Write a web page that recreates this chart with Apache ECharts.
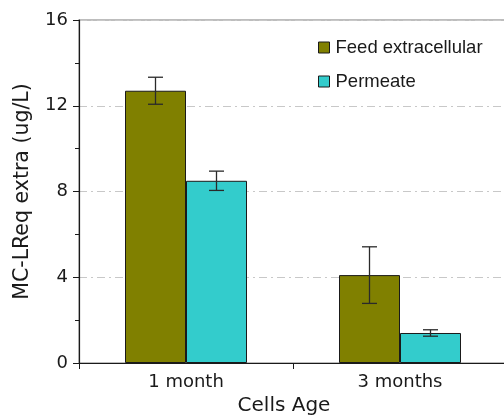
<!DOCTYPE html>
<html>
<head>
<meta charset="utf-8">
<script src="https://cdn.jsdelivr.net/npm/echarts@6/dist/echarts.min.js"></script>
<style>
  html, body { margin: 0; padding: 0; background: #fff; }
  #chart { width: 504px; height: 416px; }
</style>
</head>
<body>
<div id="chart"></div>
<script>
// Microcystin (MC-LReq) concentrations by cell age
const categories = ['1 month', '3 months'];
const seriesNames = ['Feed extracellular', 'Permeate'];
const feedValues = [12.7, 4.1];
const feedErrors = [0.63, 1.32];
const permeateValues = [8.5, 1.4];
const permeateErrors = [0.45, 0.15];
const yTicks = [0, 4, 8, 12, 16];

const BAR_WIDTH = 61;
const CAP_HALF = 7.5;
const AXIS_FONT = 'DejaVu Sans';

function errorSeries(name, values, errors, side) {
  const data = values.map((v, i) => [i, v - errors[i], v + errors[i]]);
  return {
    type: 'custom',
    name: name + ' error',
    z: 10,
    silent: true,
    encode: { x: 0, y: [1, 2] },
    data: data,
    renderItem: function (params, api) {
      const lowPt = api.coord([api.value(0), api.value(1)]);
      const highPt = api.coord([api.value(0), api.value(2)]);
      const x = lowPt[0] + side * BAR_WIDTH / 2;
      const style = { stroke: '#2a2a2a', lineWidth: 1.3 };
      return {
        type: 'group',
        children: [
          { type: 'line', shape: { x1: x, y1: highPt[1], x2: x, y2: lowPt[1] }, style: style },
          { type: 'line', shape: { x1: x - CAP_HALF, y1: highPt[1], x2: x + CAP_HALF, y2: highPt[1] }, style: style },
          { type: 'line', shape: { x1: x - CAP_HALF, y1: lowPt[1], x2: x + CAP_HALF, y2: lowPt[1] }, style: style }
        ]
      };
    }
  };
}

const chart = echarts.init(document.getElementById('chart'), null, { renderer: 'canvas' });
chart.setOption({
  animation: false,
  backgroundColor: '#fff',
  grid: {
    left: 79, top: 20, width: 428, height: 343,
    outerBoundsMode: 'none',
    containLabel: false,
    show: true, borderColor: '#a8a8a8', borderWidth: 1.5, backgroundColor: 'transparent'
  },
  legend: {
    data: seriesNames,
    orient: 'vertical',
    left: 318, top: 38,
    padding: 0,
    itemWidth: 11, itemHeight: 11, itemGap: 15,
    icon: 'rect',
    itemStyle: { borderColor: '#1a1a1a', borderWidth: 1 },
    textStyle: { fontFamily: 'Liberation Sans', fontSize: 18.5, color: '#1a1a1a', padding: [0, 0, 0, 1] }
  },
  xAxis: {
    type: 'category',
    data: categories,
    name: 'Cells Age',
    nameLocation: 'middle',
    nameGap: 32,
    nameTextStyle: { fontFamily: AXIS_FONT, fontSize: 20, color: '#1a1a1a', padding: [0, 18, 0, 0] },
    axisLine: { lineStyle: { color: '#1a1a1a', width: 1.2 } },
    axisTick: { show: true, length: 6, lineStyle: { color: '#1a1a1a' } },
    axisLabel: { fontFamily: AXIS_FONT, fontSize: 18, color: '#1a1a1a', margin: 10 }
  },
  yAxis: {
    type: 'value',
    min: yTicks[0],
    max: yTicks[yTicks.length - 1],
    interval: yTicks[1] - yTicks[0],
    name: 'MC-LReq extra (ug/L)',
    nameLocation: 'middle',
    nameRotate: 90,
    nameGap: 46,
    nameTextStyle: { fontFamily: AXIS_FONT, fontSize: 20.5, color: '#1a1a1a' },
    axisLine: { show: true, lineStyle: { color: '#1a1a1a', width: 1.2 } },
    axisTick: { show: true, length: 6, lineStyle: { color: '#1a1a1a' } },
    minorTick: { show: true, splitNumber: 2, length: 4, lineStyle: { color: '#1a1a1a' } },
    axisLabel: { fontFamily: AXIS_FONT, fontSize: 18, color: '#1a1a1a', margin: 11 },
    splitLine: { show: true, lineStyle: { color: '#c8c8c8', width: 1, type: [8, 4, 2, 4] } }
  },
  series: [
    {
      type: 'bar',
      name: seriesNames[0],
      data: feedValues,
      barWidth: BAR_WIDTH,
      barGap: '0%',
      itemStyle: { color: '#808000', borderColor: '#1a1a1a', borderWidth: 1 }
    },
    {
      type: 'bar',
      name: seriesNames[1],
      data: permeateValues,
      barWidth: BAR_WIDTH,
      barGap: '0%',
      itemStyle: { color: '#33cccc', borderColor: '#1a1a1a', borderWidth: 1 }
    },
    errorSeries(seriesNames[0], feedValues, feedErrors, -1),
    errorSeries(seriesNames[1], permeateValues, permeateErrors, 1)
  ]
});
</script>
</body>
</html>
